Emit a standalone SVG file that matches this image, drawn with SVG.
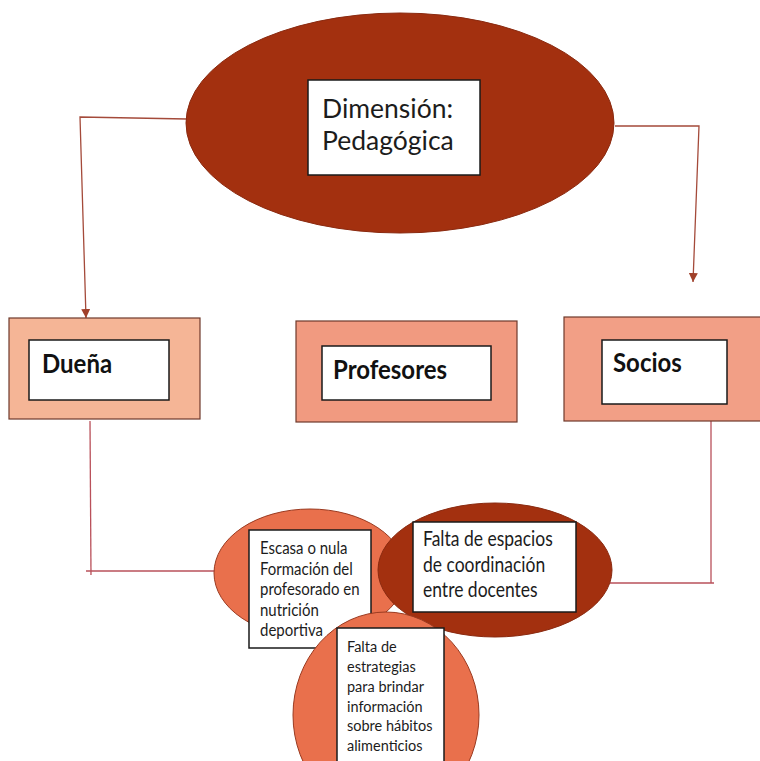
<svg xmlns="http://www.w3.org/2000/svg" width="760" height="761" viewBox="0 0 760 761">
  <defs>
    <style>
      .t { font-family: "Lato", "Liberation Sans", sans-serif; fill: #1c1c1c; }
      .b { font-weight: bold; fill: #111; }
      .inner { fill: #ffffff; stroke: #1a1a1a; stroke-width: 1.5; }
      .outer { stroke: #6e3a2c; stroke-width: 1.2; }
      .dark { fill: #a3300f; stroke: #8a2a10; stroke-width: 1; }
      .coral { fill: #e9704c; stroke: #9a3a20; stroke-width: 1; }
      .link-top { fill: none; stroke: #a44a3a; stroke-width: 1.3; }
      .link-low { fill: none; stroke: #b9505a; stroke-width: 1.3; }
    </style>
    <marker id="arrow" viewBox="0 0 10 10" refX="10" refY="5" markerWidth="9" markerHeight="9" markerUnits="userSpaceOnUse" orient="auto">
      <path d="M0,0 L10,5 L0,10 z" fill="#a0402a"/>
    </marker>
  </defs>

  <rect width="760" height="761" fill="#ffffff"/>

  <!-- connectors -->
  <g id="connectors">
    <path class="link-top" d="M187,119 L80,117 L86,318" marker-end="url(#arrow)"/>
    <path class="link-top" d="M615,126 L699,126 L693,282" marker-end="url(#arrow)"/>
    <path class="link-low" d="M90,421 L91,575"/>
    <path class="link-low" d="M86,571 L216,571"/>
    <path class="link-low" d="M711,421 L711,583"/>
    <path class="link-low" d="M714,583 L610,583"/>
  </g>

  <!-- central dimension -->
  <g id="node-dimension">
    <ellipse class="dark" cx="400" cy="123" rx="214" ry="110"/>
    <rect class="inner" x="308" y="80" width="172" height="95"/>
    <text class="t" font-size="26.5" transform="translate(322,118)">
      <tspan x="0" y="0">Dimensión:</tspan>
      <tspan x="0" y="32">Pedagógica</tspan>
    </text>
  </g>

  <!-- stakeholders -->
  <g id="node-duena">
    <rect class="outer" x="9" y="318" width="191" height="101" fill="#f5b596"/>
    <rect class="inner" x="29" y="340" width="140" height="60"/>
    <text class="t b" font-size="24" transform="translate(42,373) scale(1,1.12)">Dueña</text>
  </g>

  <g id="node-profesores">
    <rect class="outer" x="296" y="321" width="221" height="101" fill="#f19a80"/>
    <rect class="inner" x="322" y="346" width="169" height="54"/>
    <text class="t b" font-size="24" transform="translate(333,379) scale(1,1.12)">Profesores</text>
  </g>

  <g id="node-socios">
    <rect class="outer" x="564" y="317" width="200" height="104" fill="#f29f86"/>
    <rect class="inner" x="602" y="340" width="125" height="64"/>
    <text class="t b" font-size="24" transform="translate(613,372) scale(1,1.12)">Socios</text>
  </g>

  <!-- problems -->
  <g id="node-formacion">
    <ellipse class="coral" cx="310" cy="573" rx="96" ry="64"/>
    <rect class="inner" x="249" y="530" width="122" height="118"/>
    <text class="t" font-size="15" transform="translate(260,554) scale(1,1.1)">
      <tspan x="0" y="0">Escasa o nula</tspan>
      <tspan x="0" y="18.8">Formación del</tspan>
      <tspan x="0" y="37.6">profesorado en</tspan>
      <tspan x="0" y="56.2">nutrición</tspan>
      <tspan x="0" y="75">deportiva</tspan>
    </text>
  </g>

  <g id="node-coordinacion">
    <ellipse class="dark" cx="495" cy="570" rx="117" ry="67"/>
    <rect class="inner" x="413" y="522" width="163" height="90"/>
    <text class="t" font-size="17.5" transform="translate(423,546) scale(1,1.18)">
      <tspan x="0" y="0">Falta de espacios</tspan>
      <tspan x="0" y="21.8">de coordinación</tspan>
      <tspan x="0" y="43.2">entre docentes</tspan>
    </text>
  </g>

  <g id="node-estrategias">
    <ellipse class="coral" cx="386" cy="715" rx="93" ry="103"/>
    <rect class="inner" x="337" y="628" width="107" height="150"/>
    <text class="t" font-size="14.5" transform="translate(347,652) scale(1,1.1)">
      <tspan x="0" y="0">Falta de</tspan>
      <tspan x="0" y="18.2">estrategias</tspan>
      <tspan x="0" y="36.4">para brindar</tspan>
      <tspan x="0" y="54.6">información</tspan>
      <tspan x="0" y="71.8">sobre hábitos</tspan>
      <tspan x="0" y="90">alimenticios</tspan>
    </text>
  </g>
</svg>
